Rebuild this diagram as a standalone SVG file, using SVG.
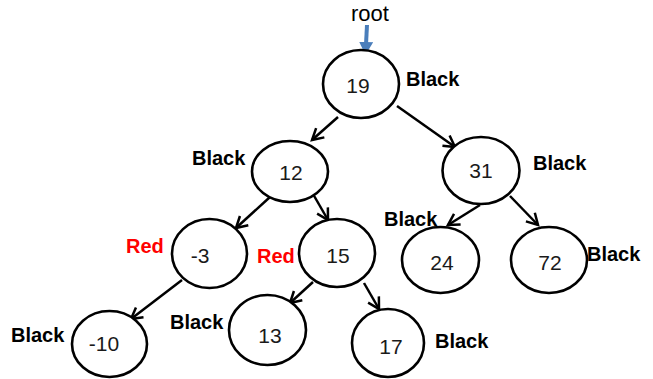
<svg xmlns="http://www.w3.org/2000/svg" width="653" height="379" viewBox="0 0 653 379">
  <style>
    .node ellipse { fill: #ffffff; stroke: #000000; stroke-width: 2.6; }
    .node text.key { font-family: "Liberation Sans", Arial, sans-serif; font-size: 21px; fill: #1a1a1a; text-anchor: middle; }
    .color { font-family: "Liberation Sans", Arial, sans-serif; font-size: 20px; font-weight: bold; }
    .black { fill: #000000; }
    .red { fill: #ff0000; }
    .edge { stroke: #000000; stroke-width: 2.5; fill: none; marker-end: url(#chevron); }
  </style>
  <defs>
    <marker id="chevron" markerUnits="userSpaceOnUse" markerWidth="16" markerHeight="16" refX="12" refY="7" orient="auto" viewBox="0 0 16 14">
      <path d="M1,0.8 L12,7 L1,13.2" fill="none" stroke="#000000" stroke-width="2.5"/>
    </marker>
    <marker id="rootHead" markerUnits="userSpaceOnUse" markerWidth="14" markerHeight="14" refX="12" refY="7" orient="auto" viewBox="0 0 14 14">
      <path d="M0,0 L13,7 L0,14 Z" fill="#4a7ebb"/>
    </marker>
  </defs>

  <!-- root pointer -->
  <g id="root-pointer">
    <text x="370" y="21" font-family="Liberation Sans, Arial, sans-serif" font-size="22" text-anchor="middle" fill="#000000">root</text>
    <line x1="367" y1="25" x2="365.5" y2="54" stroke="#4a7ebb" stroke-width="4" marker-end="url(#rootHead)"/>
  </g>

  <!-- tree edges -->
  <g id="connectors">
    <line class="edge" x1="338" y1="117" x2="312" y2="140"/>
    <line class="edge" x1="397" y1="106" x2="455" y2="147"/>
    <line class="edge" x1="270" y1="197" x2="236" y2="228"/>
    <line class="edge" x1="313" y1="194" x2="328" y2="220"/>
    <line class="edge" x1="182" y1="280" x2="131" y2="319"/>
    <line class="edge" x1="313" y1="282" x2="290" y2="303"/>
    <line class="edge" x1="364" y1="283" x2="379" y2="309"/>
    <line class="edge" x1="480" y1="205" x2="448" y2="225"/>
    <line class="edge" x1="510" y1="196" x2="538" y2="225"/>
  </g>

  <g id="node-19" class="node">
    <ellipse cx="361" cy="84" rx="38" ry="34"/>
    <text class="key" x="358" y="93">19</text>
    <text class="color black" x="406" y="86">Black</text>
  </g>

  <g id="node-12" class="node">
    <ellipse cx="290" cy="171.5" rx="38" ry="30.5"/>
    <text class="key" x="291" y="180">12</text>
    <text class="color black" x="192" y="165">Black</text>
  </g>

  <g id="node-31" class="node">
    <ellipse cx="481" cy="170.5" rx="38.5" ry="33.5"/>
    <text class="key" x="481" y="178">31</text>
    <text class="color black" x="533" y="170">Black</text>
  </g>

  <g id="node-neg3" class="node">
    <ellipse cx="209.5" cy="253.5" rx="37.5" ry="34.5"/>
    <text class="key" x="200" y="263">-3</text>
    <text class="color red" x="126" y="253">Red</text>
  </g>

  <g id="node-15" class="node">
    <ellipse cx="337" cy="253" rx="38" ry="34"/>
    <text class="key" x="338" y="263">15</text>
    <text class="color red" x="257" y="263">Red</text>
  </g>

  <g id="node-24" class="node">
    <ellipse cx="440.5" cy="260" rx="38.5" ry="33"/>
    <text class="key" x="442" y="270">24</text>
    <text class="color black" x="384" y="226">Black</text>
  </g>

  <g id="node-72" class="node">
    <ellipse cx="549" cy="260" rx="38" ry="33"/>
    <text class="key" x="550" y="270">72</text>
    <text class="color black" x="587" y="261">Black</text>
  </g>

  <g id="node-neg10" class="node">
    <ellipse cx="109.5" cy="344" rx="37.5" ry="33"/>
    <text class="key" x="104" y="351">-10</text>
    <text class="color black" x="11" y="342">Black</text>
  </g>

  <g id="node-13" class="node">
    <ellipse cx="267.5" cy="330" rx="38.5" ry="35"/>
    <text class="key" x="270" y="343">13</text>
    <text class="color black" x="170" y="329">Black</text>
  </g>

  <g id="node-17" class="node">
    <ellipse cx="388" cy="343" rx="36" ry="34"/>
    <text class="key" x="391" y="354">17</text>
    <text class="color black" x="435" y="348">Black</text>
  </g>
</svg>
